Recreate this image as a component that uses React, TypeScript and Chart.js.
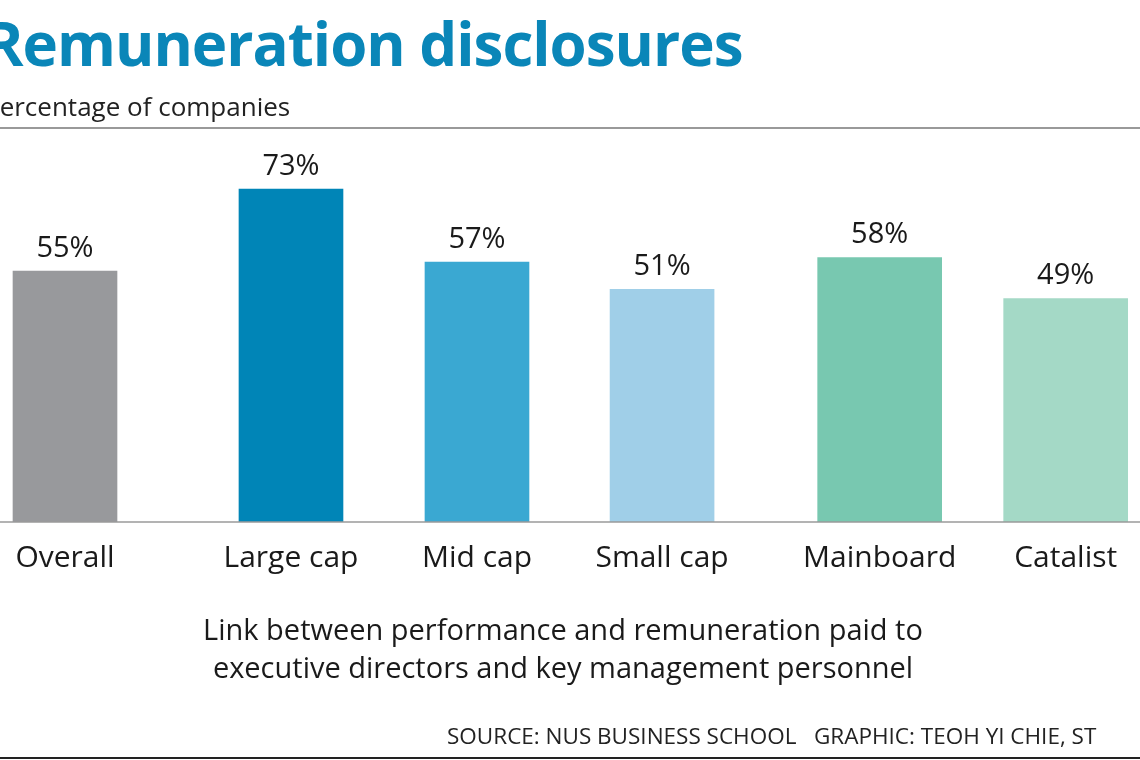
import React, { useEffect, useRef } from "react";
import { Chart, registerables } from "chart.js";
Chart.register(...registerables);

const categories = ["Overall", "Large cap", "Mid cap", "Small cap", "Mainboard", "Catalist"];
const values = [55, 73, 57, 51, 58, 49];
const slots = [0, 1.215, 2.215, 3.21, 4.38, 5.38];
const colors = ["#98999c", "#0085b7", "#3aa8d2", "#a0cfe8", "#78c8b0", "#a4d9c6"];
const wide = [false, false, false, false, true, true];

const F = "'Open Sans', Roboto, sans-serif";

export default function App() {
  const ref = useRef<HTMLCanvasElement>(null);
  useEffect(() => {
    const labelPlugin = {
      id: "lbl",
      afterDatasetsDraw(chart: any) {
        const { ctx, chartArea } = chart;
        const xs = chart.scales.x, ys = chart.scales.y;
        ctx.save();
        ctx.strokeStyle = "#9a9a9a";
        ctx.lineWidth = 1.5;
        ctx.beginPath();
        ctx.moveTo(0, ys.getPixelForValue(0));
        ctx.lineTo(chart.width, ys.getPixelForValue(0));
        ctx.stroke();
        ctx.fillStyle = "#1a1a1a";
        ctx.textAlign = "center";
        values.forEach((v, i) => {
          const x = xs.getPixelForValue(slots[i]);
          ctx.font = `500 29px ${F}`;
          ctx.textBaseline = "bottom";
          ctx.fillText(v + "%", x, ys.getPixelForValue(v) - 8);
          ctx.font = `400 30px ${F}`;
          ctx.textBaseline = "middle";
          ctx.fillText(categories[i], x, chartArea.bottom + 36);
        });
        ctx.restore();
      },
    };
    const mk = (w: boolean) => ({
      data: values.map((v, i) => (wide[i] === w ? { x: slots[i], y: v } : null)).filter(Boolean),
      backgroundColor: colors.filter((_, i) => wide[i] === w),
      barThickness: w ? 124 : 104,
      grouped: false,
    });
    const chart = new Chart(ref.current!, {
      type: "bar",
      data: { datasets: [mk(false) as any, mk(true) as any] },
      options: {
        animation: false,
        responsive: false,
        layout: { padding: { top: 66, bottom: 238, left: 0, right: 0 } },
        plugins: { legend: { display: false }, tooltip: { enabled: false } },
        scales: {
          x: { type: "linear", min: -65 / 186, max: 1075 / 186, offset: false, display: false },
          y: { min: 0, max: 100, display: false },
        },
      },
      plugins: [labelPlugin],
    });
    return () => chart.destroy();
  }, []);
  return (
    <div style={{ position: "fixed", left: 0, top: 0, width: 1140, height: 760, overflow: "hidden", background: "#fff", fontFamily: F }}>
      <canvas ref={ref} width={1140} height={760} style={{ position: "absolute", left: 0, top: 0 }} />
      <div style={{ position: "absolute", left: -16, top: 2, fontSize: 60, fontWeight: 700, color: "#0a86b8", whiteSpace: "nowrap", letterSpacing: -1 }}>Remuneration disclosures</div>
      <div style={{ position: "absolute", left: -16, top: 88, fontSize: 26, color: "#222", whiteSpace: "nowrap" }}>Percentage of companies</div>
      <div style={{ position: "absolute", left: 0, top: 127, width: 1140, height: 1.5, background: "#999" }} />
      <div style={{ position: "absolute", left: 0, top: 610, width: 1126, textAlign: "center", fontSize: 29, lineHeight: "38px", color: "#1a1a1a" }}>
        Link between performance and remuneration paid to<br />executive directors and key management personnel
      </div>
      <div style={{ position: "absolute", left: 447, top: 720, fontSize: 22.5, color: "#222", whiteSpace: "nowrap" }}>SOURCE: NUS BUSINESS SCHOOL&nbsp;&nbsp;&nbsp;GRAPHIC: TEOH YI CHIE, ST</div>
      <div style={{ position: "absolute", left: 0, top: 757, width: 1140, height: 2, background: "#222" }} />
    </div>
  );
}
